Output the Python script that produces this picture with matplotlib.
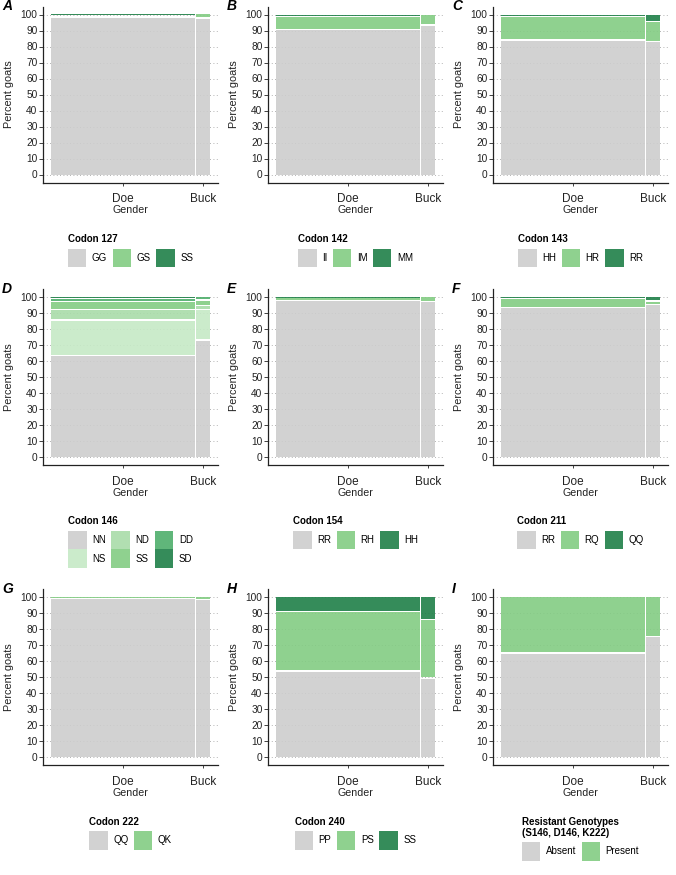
import matplotlib
matplotlib.use('Agg')
import matplotlib.pyplot as plt
from matplotlib.patches import Rectangle

plt.rcParams['font.family'] = ['Liberation Sans', 'DejaVu Sans']

# ---------------- data ----------------
genders = ['Doe', 'Buck']
gender_share = [0.909, 0.091]

codon127_levels = ['GG', 'GS', 'SS']
codon127_doe = [98.4, 1.4, 0.2]
codon127_buck = [98.0, 2.0, 0.0]

codon142_levels = ['II', 'IM', 'MM']
codon142_doe = [90.6, 8.6, 0.8]
codon142_buck = [93.5, 6.5, 0.0]

codon143_levels = ['HH', 'HR', 'RR']
codon143_doe = [84.0, 14.8, 1.2]
codon143_buck = [83.2, 12.5, 4.3]

codon146_levels = ['NN', 'NS', 'ND', 'SS', 'DD', 'SD']
codon146_doe = [63.2, 22.3, 6.6, 4.9, 2.2, 0.8]
codon146_buck = [73.0, 19.0, 2.5, 3.5, 2.0, 0.0]

codon154_levels = ['RR', 'RH', 'HH']
codon154_doe = [97.6, 1.9, 0.5]
codon154_buck = [97.0, 3.0, 0.0]

codon211_levels = ['RR', 'RQ', 'QQ']
codon211_doe = [93.2, 5.9, 0.9]
codon211_buck = [95.2, 2.3, 2.5]

codon222_levels = ['QQ', 'QK']
codon222_doe = [99.3, 0.7]
codon222_buck = [98.6, 1.4]

codon240_levels = ['PP', 'PS', 'SS']
codon240_doe = [54.0, 37.0, 9.0]
codon240_buck = [49.5, 36.5, 14.0]

resistant_levels = ['Absent', 'Present']
resistant_doe = [65.2, 34.8]
resistant_buck = [75.5, 24.5]

y_ticks = [0, 10, 20, 30, 40, 50, 60, 70, 80, 90, 100]

# ---------------- styling ----------------
GREY = '#cdcdcd'
LG = '#83cc83'
DG = '#1f8048'
col3 = [GREY, LG, DG]
col2 = [GREY, LG]
col6 = [GREY, '#c6e9c6', '#a9dca9', '#83cc83', '#4fae6c', '#1f8048']
ALPHA = 0.9

panels = [
    ('A', 'Codon 127', codon127_levels, codon127_doe, codon127_buck, col3, 3, 1),
    ('B', 'Codon 142', codon142_levels, codon142_doe, codon142_buck, col3, 3, 1),
    ('C', 'Codon 143', codon143_levels, codon143_doe, codon143_buck, col3, 3, 1),
    ('D', 'Codon 146', codon146_levels, codon146_doe, codon146_buck, col6, 3, 2),
    ('E', 'Codon 154', codon154_levels, codon154_doe, codon154_buck, col3, 3, 1),
    ('F', 'Codon 211', codon211_levels, codon211_doe, codon211_buck, col3, 3, 1),
    ('G', 'Codon 222', codon222_levels, codon222_doe, codon222_buck, col2, 2, 1),
    ('H', 'Codon 240', codon240_levels, codon240_doe, codon240_buck, col3, 3, 1),
    ('I', 'Resistant Genotypes\n(S146, D146, K222)', resistant_levels,
     resistant_doe, resistant_buck, col2, 2, 1),
]

W, H = 676, 875
fig = plt.figure(figsize=(W / 100, H / 100), dpi=100)
renderer = fig.canvas.get_renderer()

col_left = [43, 268, 493]
ax_w = 175
row_top = [6.5, 288.8, 589.2]
ax_h = 176

GAPX = 0.007
GAPY = 1.0


def fx(px):
    return px / W


def fy(py):
    return 1 - py / H


def draw_legend(cx, top, title, labels, colors, ncol, nrow):
    fs = 7
    key = 18.5
    pad = 5.5
    colsp = 5.5
    widths = []
    for lab in labels:
        t = fig.text(0, 0, lab, fontsize=fs)
        widths.append(t.get_window_extent(renderer).width)
        t.remove()
    cols = [list(range(c * nrow, min((c + 1) * nrow, len(labels)))) for c in range(ncol)]
    colw = [key + pad + max(widths[i] for i in col) for col in cols]
    keys_w = sum(colw) + colsp * (ncol - 1)
    lines = title.split('\n')
    tws = []
    for ln in lines:
        t = fig.text(0, 0, ln, fontsize=fs, weight='bold')
        tws.append(t.get_window_extent(renderer).width)
        t.remove()
    total = max(keys_w, max(tws))
    left = cx - total / 2
    for i, ln in enumerate(lines):
        fig.text(fx(left), fy(top + i * 11), ln, fontsize=fs, weight='bold',
                 ha='left', va='center')
    ktop = top + (len(lines) - 1) * 11 + 9.5
    x = left
    for c, col in enumerate(cols):
        for r, i in enumerate(col):
            y = ktop + r * key
            fig.add_artist(Rectangle((fx(x), fy(y + key)), key / W, key / H,
                                     transform=fig.transFigure, facecolor=colors[i],
                                     alpha=ALPHA, edgecolor='none'))
            fig.text(fx(x + key + pad), fy(y + key / 2), labels[i], fontsize=fs,
                     ha='left', va='center')
        x += colw[c] + colsp


for idx, (letter, title, levels, doe, buck, colors, ncol, nrow) in enumerate(panels):
    r, c = divmod(idx, 3)
    left = col_left[c]
    top = row_top[r]
    ax = fig.add_axes([fx(left), fy(top + ax_h), ax_w / W, ax_h / H])
    ax.set_xlim(-0.05, 1.05)
    ax.set_ylim(-5, 105)

    # mosaic columns
    x_starts = [0.0, gender_share[0] + GAPX / 2]
    x_ends = [gender_share[0] - GAPX / 2, 1.0]
    for gi, vals in enumerate([doe, buck]):
        b = 0.0
        for k, v in enumerate(vals):
            if v <= 0:
                continue
            y0 = b + (GAPY / 2 if b > 0.01 else 0)
            y1 = b + v - (GAPY / 2 if b + v < 99.99 else 0)
            if y1 - y0 < 0.5:
                mid = b + v / 2
                y0, y1 = mid - 0.25, mid + 0.25
            ax.bar(x_starts[gi], y1 - y0, width=x_ends[gi] - x_starts[gi], bottom=y0,
                   align='edge', color=colors[k], alpha=ALPHA, linewidth=0, zorder=2)
            b += v

    centers = [(x_starts[i] + x_ends[i]) / 2 for i in range(2)]
    ax.set_xticks(centers)
    ax.set_xticklabels(genders, fontsize=8.5)
    ax.set_yticks(y_ticks)
    ax.set_yticklabels([str(t) for t in y_ticks], fontsize=7.3)
    ax.tick_params(axis='y', length=3, width=0.6, pad=1, colors='#222222', labelcolor='#222222')
    ax.tick_params(axis='x', length=2.5, width=0.6, pad=5.3, colors='#222222', labelcolor='#222222')
    ax.set_xlabel('Gender', fontsize=7.7, labelpad=0, color='#222222')
    ax.set_ylabel('Percent goats', fontsize=7.8, labelpad=5, color='#222222')
    for s in ['top', 'right']:
        ax.spines[s].set_visible(False)
    for s in ['left', 'bottom']:
        ax.spines[s].set_linewidth(0.9)
        ax.spines[s].set_color('#222222')
    ax.set_axisbelow(True)
    ax.yaxis.grid(True, linestyle=(0, (1, 3)), color='#9a9a9a', linewidth=0.6, zorder=0)
    ax.xaxis.grid(False)

    fig.text(fx(left - 41), fy(top), letter, fontsize=10, weight='bold', style='italic',
             ha='left', va='center')

    draw_legend(left + ax_w / 2, top + ax_h + 56.5, title, levels, colors, ncol, nrow)

fig.savefig('out.png', dpi=100)
